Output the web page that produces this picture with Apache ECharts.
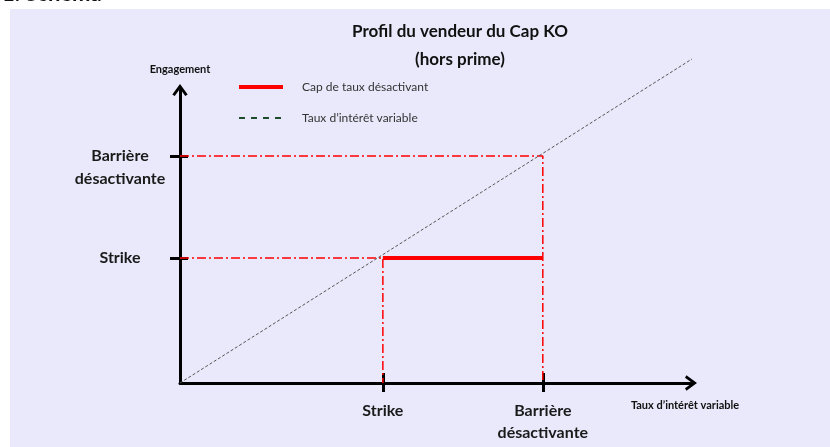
<!DOCTYPE html>
<html>
<head>
<meta charset="utf-8">
<script src="https://cdn.jsdelivr.net/npm/echarts@6/dist/echarts.min.js"></script>
<style>html,body{margin:0;padding:0;background:#fff;}#c{width:830px;height:447px;}</style>
</head>
<body>
<div id="c"></div>
<script>
// ---- data ----
const tickNames = ['Strike', 'Barrière\ndésactivante'];
const tickX = [39.7, 71.0];          // Strike, Barrière on the rate axis
const tickY = [42.7, 77.5];          // Strike, Barrière on the engagement axis
const capX = [39.7, 71.0];           // Cap de taux désactivant
const capY = [42.7, 42.7];
const rateX = [0, 100.2];            // Taux d'intérêt variable
const rateY = [0, 110.6];
const legendNames = ['Cap de taux désactivant', 'Taux d’intérêt variable'];

const FONT = 'Lato, "Open Sans", sans-serif';
const chart = echarts.init(document.getElementById('c'), null, {renderer: 'canvas'});
const chevron = 'path://M0,11 L8,0 L16,11 L13.5,12.5 L8,5 L2.5,12.5 Z';

function labelFor(v, axis) {
  const arr = axis === 'x' ? tickX : tickY;
  const i = arr.findIndex(a => Math.abs(a - v) < 1e-6);
  if (i < 0) return '';
  if (axis === 'y' && tickNames[i].indexOf('\n') >= 0) return '\u00a0\n' + tickNames[i];
  return tickNames[i];
}

const pairs = (xs, ys) => xs.map((x, i) => [x, ys[i]]);

const option = {
  animation: false,
  textStyle: {fontFamily: FONT},
  graphic: [
    {type: 'rect', z: -10, shape: {x: 10, y: 9, width: 820, height: 438}, style: {fill: '#e9e9fb'}},
    {type: 'text', z: -5, left: 2, top: -17, style: {text: '1. Schéma', font: 'bold 22px ' + FONT, fill: '#111'}}
  ],
  title: {
    text: 'Profil du vendeur du Cap KO\n(hors prime)',
    left: 455, top: 13, textAlign: 'center',
    textStyle: {fontFamily: FONT, fontWeight: 'bold', fontSize: 17, color: '#111', lineHeight: 28}
  },
  legend: {
    orient: 'vertical', left: 232, top: 76,
    itemWidth: 44, itemHeight: 14, itemGap: 19,
    textStyle: {fontFamily: FONT, fontSize: 12, color: '#333', padding: [0, 0, 0, 14]},
    data: [
      {name: legendNames[0], lineStyle: {color: '#ff0000', width: 4}, itemStyle: {opacity: 0}},
      {name: legendNames[1], lineStyle: {color: '#1e4d2b', width: 2, type: [6, 6]}, itemStyle: {opacity: 0}}
    ]
  },
  grid: {left: 180, top: 90, width: 511, height: 293, containLabel: false},
  xAxis: [{
    type: 'value', min: 0, max: 100,
    name: legendNames[1], nameLocation: 'end', nameGap: -6,
    nameTextStyle: {fontFamily: FONT, fontWeight: 'bold', fontSize: 11, color: '#111', align: 'center', verticalAlign: 'top', padding: [17, 0, 0, 0]},
    axisLine: {show: true, onZero: false, symbol: ['none', chevron], symbolSize: [16, 12], lineStyle: {color: '#000', width: 3}},
    axisTick: {show: true, customValues: tickX, length: 9, lineStyle: {color: '#000', width: 3}},
    axisLabel: {show: true, customValues: tickX, margin: 17, formatter: v => labelFor(v, 'x'),
      fontFamily: FONT, fontWeight: 'bold', fontSize: 16, color: '#1a1a1a', lineHeight: 22, align: 'center'},
    splitLine: {show: false}
  }, {
    type: 'value', min: 0, max: 100, position: 'bottom', offset: 0,
    axisLine: {show: false},
    axisTick: {show: true, inside: true, customValues: tickX, length: 10, lineStyle: {color: '#000', width: 3}},
    axisLabel: {show: false}, splitLine: {show: false}
  }],
  yAxis: [{
    type: 'value', min: 0, max: 100,
    name: 'Engagement', nameLocation: 'end', nameGap: 15,
    nameTextStyle: {fontFamily: FONT, fontWeight: 'bold', fontSize: 11, color: '#111', align: 'center'},
    axisLine: {show: true, onZero: false, symbol: ['none', chevron], symbolSize: [16, 12], lineStyle: {color: '#000', width: 3}},
    axisTick: {show: true, customValues: tickY, length: 10, lineStyle: {color: '#000', width: 3}},
    axisLabel: {show: true, customValues: tickY, margin: 60, formatter: v => labelFor(v, 'y'),
      fontFamily: FONT, fontWeight: 'bold', fontSize: 16, color: '#1a1a1a', lineHeight: 23, align: 'center', verticalAlign: 'middle'},
    splitLine: {show: false}
  }, {
    type: 'value', min: 0, max: 100, position: 'left', offset: 0,
    axisLine: {show: false},
    axisTick: {show: true, inside: true, customValues: tickY, length: 8, lineStyle: {color: '#000', width: 3}},
    axisLabel: {show: false}, splitLine: {show: false}
  }],
  series: [
    {
      name: legendNames[1], type: 'line', clip: false, symbol: 'none', z: 3,
      data: pairs(rateX, rateY),
      lineStyle: {color: '#555', width: 1, type: [3, 2]}, itemStyle: {color: '#555'}
    },
    {
      name: 'guideStrike', type: 'line', symbol: 'none', clip: false, z: 1,
      data: [[0, tickY[0]], [tickX[0], tickY[0]], [tickX[0], 0]],
      lineStyle: {color: '#ff0000', width: 1.5, type: [9, 3, 2, 3]}
    },
    {
      name: 'guideBarrier', type: 'line', symbol: 'none', clip: false, z: 1,
      data: [[0, tickY[1]], [tickX[1], tickY[1]], [tickX[1], 0]],
      lineStyle: {color: '#ff0000', width: 1.5, type: [9, 3, 2, 3]}
    },
    {
      name: legendNames[0], type: 'line', symbol: 'none', z: 4,
      data: pairs(capX, capY),
      lineStyle: {color: '#ff0000', width: 4}, itemStyle: {color: '#ff0000'}
    }
  ]
};
chart.setOption(option);
</script>
</body>
</html>
